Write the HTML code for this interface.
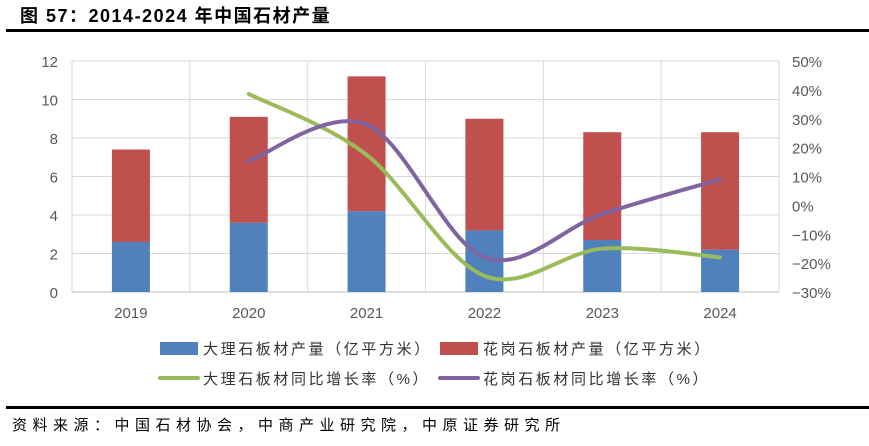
<!DOCTYPE html>
<html><head><meta charset="utf-8"><style>
body{margin:0;background:#fff;font-family:"Liberation Sans","Noto Sans CJK SC",sans-serif;}
</style></head><body>
<svg width="869" height="441" xmlns="http://www.w3.org/2000/svg" font-family="Liberation Sans, Noto Sans CJK SC, sans-serif">
<text x="20" y="22" font-size="18" font-weight="bold" fill="#000" letter-spacing="1.5">图 57：2014-2024 年中国石材产量</text>
<rect x="6" y="29" width="863" height="3" fill="#000"/>
<g id="grid"></g>
<g id="bars"></g>
<g id="lines"></g>
<g id="axes"></g>
<g font-size="15" fill="#333" letter-spacing="2.6">
<rect x="160" y="342" width="38" height="13" fill="#4F81BD"/>
<text x="203" y="354">大理石板材产量（亿平方米）</text>
<rect x="440" y="342" width="38" height="13" fill="#C0504D"/>
<text x="483" y="354">花岗石板材产量（亿平方米）</text>
<line x1="160" y1="378" x2="198" y2="378" stroke="#9BBB59" stroke-width="4" stroke-linecap="round"/>
<text x="203" y="384">大理石板材同比增长率（%）</text>
<line x1="440" y1="378" x2="478" y2="378" stroke="#8064A2" stroke-width="4" stroke-linecap="round"/>
<text x="483" y="384">花岗石板材同比增长率（%）</text>
</g>
<rect x="6" y="406" width="863" height="3" fill="#000"/>
<text x="12" y="430" font-size="15" fill="#000" letter-spacing="5.5">资料来源：中国石材协会，中商产业研究院，中原证券研究所</text>
</svg>
<script>
const categories=["2019","2020","2021","2022","2023","2024"];
const marbleOutput=[2.6,3.6,4.2,3.2,2.7,2.2];
const graniteOutput=[4.8,5.5,7.0,5.8,5.6,6.1];
const marbleGrowth=[null,38.6,17.5,-24.4,-15,-18];
const graniteGrowth=[null,15.4,28,-18,-3,9];
const leftTicks=[0,2,4,6,8,10,12];
const rightTicks=[-30,-20,-10,0,10,20,30,40,50];
const NS="http://www.w3.org/2000/svg";
const X0=72,X1=779,Y0=292,Y1=61;
const band=(X1-X0)/categories.length;
const xc=i=>X0+band*(i+0.5);
const yL=v=>Y0-(v/12)*(Y0-Y1);
const yR=v=>Y0-((v+30)/80)*(Y0-Y1);
function mk(tag,attrs,parent){const e=document.createElementNS(NS,tag);for(const k in attrs)e.setAttribute(k,attrs[k]);parent.appendChild(e);return e;}
const grid=document.getElementById('grid'),bars=document.getElementById('bars'),lines=document.getElementById('lines'),axes=document.getElementById('axes');
leftTicks.forEach(t=>{
 const l=mk('line',{x1:X0,x2:X1,y1:yL(t),y2:yL(t),stroke:t===0?'#BFBFBF':'#D9D9D9','stroke-width':1},grid);
 
 
 const tx=mk('text',{x:58,y:yL(t)+6,'text-anchor':'end','font-size':15,fill:'#595959'},axes);
 tx.textContent=t;
 
 
});
for(let i=0;i<=categories.length;i++){
 const l=mk('line',{x1:X0+band*i,x2:X0+band*i,y1:Y1,y2:Y0,stroke:'#D9D9D9','stroke-width':1},grid);
 
 
}
rightTicks.forEach(t=>{
 const tx=mk('text',{x:792,y:yR(t)+6,'font-size':15,fill:'#595959'},axes);
 tx.textContent=(t<0?'−':'')+Math.abs(t)+'%';
 
 
});
categories.forEach((c,i)=>{
 const tx=mk('text',{x:xc(i),y:318,'text-anchor':'middle','font-size':15,fill:'#595959'},axes);
 tx.textContent=c;
 
 
 const w=38;
 const b1=mk('rect',{x:xc(i)-w/2,y:yL(marbleOutput[i]),width:w,height:Y0-yL(marbleOutput[i]),fill:'#4F81BD'},bars);
 
 
 const top=marbleOutput[i]+graniteOutput[i];
 const b2=mk('rect',{x:xc(i)-w/2,y:yL(top),width:w,height:yL(marbleOutput[i])-yL(top),fill:'#C0504D'},bars);
 
 
});
function smooth(vals){
 const p=[];vals.forEach((v,i)=>{if(v!==null)p.push([xc(i),yR(v)]);});
 let d='M'+p[0][0]+','+p[0][1];
 for(let i=0;i<p.length-1;i++){
  const p0=p[i-1]||p[i],p1=p[i],p2=p[i+1],p3=p[i+2]||p2,t=6;
  d+=' C'+(p1[0]+(p2[0]-p0[0])/t)+','+(p1[1]+(p2[1]-p0[1])/t)+' '+(p2[0]-(p3[0]-p1[0])/t)+','+(p2[1]-(p3[1]-p1[1])/t)+' '+p2[0]+','+p2[1];
 }
 return d;
}
const g1=mk('path',{d:smooth(marbleGrowth),fill:'none',stroke:'#9BBB59','stroke-width':4,'stroke-linecap':'round'},lines);


const g2=mk('path',{d:smooth(graniteGrowth),fill:'none',stroke:'#8064A2','stroke-width':4,'stroke-linecap':'round'},lines);


</script>
</body></html>
